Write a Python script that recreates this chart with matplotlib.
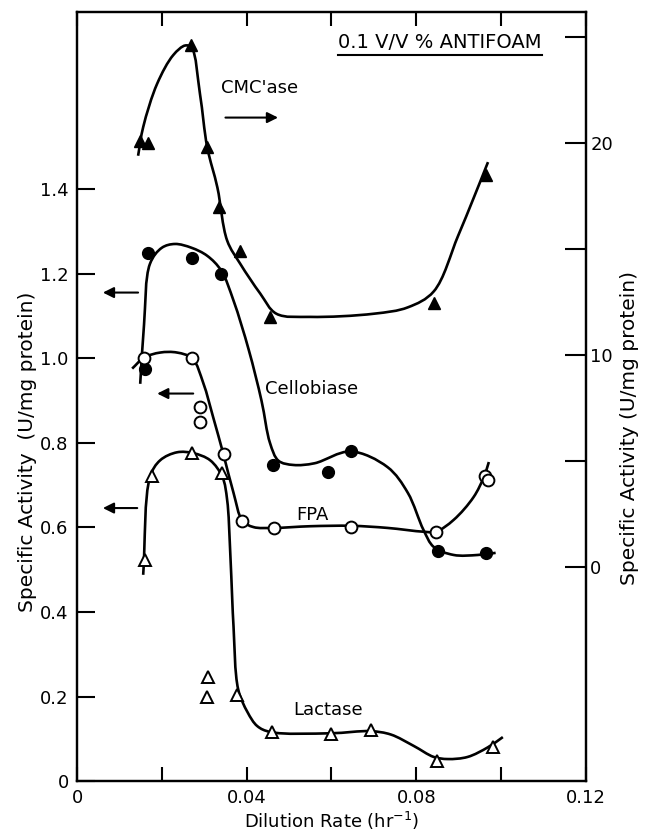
import numpy as np
import matplotlib
matplotlib.use('Agg')
import matplotlib.pyplot as plt
from matplotlib.path import Path
from matplotlib.patches import PathPatch
from matplotlib.lines import Line2D

plt.rcParams['font.family'] = ['DejaVu Sans']

# measured points
# CMC'ase  (right axis, U/mg protein)
cmc_x = [0.0149, 0.0168, 0.0269, 0.0307, 0.0335, 0.0385, 0.0456, 0.0841, 0.0964]
cmc_y = [20.1, 20.0, 24.6, 19.8, 17.0, 14.9, 11.8, 12.45, 18.5]
# Cellobiase (left axis)
cel_x = [0.0161, 0.0168, 0.0272, 0.0340, 0.0463, 0.0592, 0.0645, 0.0850, 0.0964]
cel_y = [0.974, 1.25, 1.238, 1.20, 0.748, 0.731, 0.78, 0.545, 0.54]
# FPA (left axis)
fpa_x = [0.0159, 0.0271, 0.0290, 0.0290, 0.0346, 0.0390, 0.0464, 0.0647, 0.0846, 0.0961, 0.0970]
fpa_y = [1.002, 1.0, 0.885, 0.849, 0.774, 0.616, 0.599, 0.60, 0.59, 0.722, 0.712]
# Lactase (left axis)
lac_x = [0.0160, 0.0177, 0.0270, 0.0343, 0.0310, 0.0307, 0.0378, 0.0460, 0.0600, 0.0692, 0.0848, 0.0980]
lac_y = [0.523, 0.722, 0.776, 0.729, 0.245, 0.20, 0.203, 0.116, 0.111, 0.12, 0.047, 0.08]

# hand drawn curves (knots)
cmc_fit_x = [0.0144, 0.0156, 0.0189, 0.0227, 0.0255, 0.0270, 0.0290, 0.0307, 0.0331, 0.0354, 0.0385,
             0.0432, 0.0470, 0.0550, 0.0700, 0.0780, 0.0841, 0.0898, 0.0935, 0.0969]
cmc_fit_y = [19.4, 20.75, 22.8, 24.15, 24.6, 24.5, 22.3, 19.8, 17.9, 15.4, 14.3,
             12.9, 11.95, 11.8, 11.95, 12.25, 13.0, 15.6, 17.4, 19.1]
cel_fit_x = [0.0149, 0.0158, 0.0172, 0.0200, 0.0231, 0.0270, 0.0307, 0.0340, 0.0369, 0.0405, 0.0435,
             0.0455, 0.0475, 0.0510, 0.0560, 0.0645, 0.0732, 0.0780, 0.0817, 0.0841, 0.0888, 0.0945,
             0.0987]
cel_fit_y = [0.94, 1.08, 1.224, 1.262, 1.271, 1.262, 1.243, 1.208, 1.137, 1.02, 0.90,
             0.80, 0.758, 0.748, 0.752, 0.780, 0.743, 0.682, 0.594, 0.554, 0.535, 0.535,
             0.540]
fpa_fit_x = [0.0130, 0.0158, 0.0196, 0.0236, 0.0272, 0.0298, 0.0321, 0.0345, 0.0369, 0.0390, 0.0416,
             0.0463, 0.0550, 0.0647, 0.0732, 0.0817, 0.0846, 0.0888, 0.0935, 0.0959, 0.0971]
fpa_fit_y = [0.976, 1.002, 1.014, 1.014, 1.0, 0.941, 0.861, 0.774, 0.682, 0.616, 0.601,
             0.599, 0.603, 0.604, 0.599, 0.59, 0.59, 0.618, 0.672, 0.719, 0.755]
lac_fit_x = [0.0156, 0.0172, 0.0196, 0.0236, 0.0274, 0.0314, 0.0343, 0.0354, 0.0361, 0.0366, 0.0369,
             0.0380, 0.0402, 0.0425, 0.0456, 0.0598, 0.0692, 0.0740, 0.0794, 0.0841, 0.0874, 0.0921,
             0.0969, 0.1004]
lac_fit_y = [0.488, 0.719, 0.759, 0.778, 0.776, 0.759, 0.719, 0.665, 0.547, 0.429, 0.366,
             0.217, 0.163, 0.13, 0.116, 0.113, 0.118, 0.110, 0.083, 0.057, 0.052, 0.057,
             0.080, 0.104]

x_ticks = [0, 0.02, 0.04, 0.06, 0.08, 0.10, 0.12]
x_labels = ['0', '', '0.04', '', '0.08', '', '0.12']
yl_ticks = [0, 0.2, 0.4, 0.6, 0.8, 1.0, 1.2, 1.4]
yl_labels = ['0', '0.2', '0.4', '0.6', '0.8', '1.0', '1.2', '1.4']
yr_ticks = [0, 5, 10, 15, 20, 25]
yr_labels = ['0', '', '10', '', '20', '']


def spline_path(a, xs, ys, alpha=0.5):
    # centripetal catmull-rom in screen space, turned into cubic beziers
    p = a.transData.transform(np.column_stack([xs, ys]))
    pe = np.vstack([2 * p[0] - p[1], p, 2 * p[-1] - p[-2]])
    verts = [p[0]]
    codes = [Path.MOVETO]
    for i in range(1, len(pe) - 2):
        p0, p1, p2, p3 = pe[i - 1], pe[i], pe[i + 1], pe[i + 2]
        d0 = max(np.linalg.norm(p1 - p0) ** alpha, 1e-6)
        d1 = max(np.linalg.norm(p2 - p1) ** alpha, 1e-6)
        d2 = max(np.linalg.norm(p3 - p2) ** alpha, 1e-6)
        m1 = (p1 - p0) / d0 - (p2 - p0) / (d0 + d1) + (p2 - p1) / d1
        m2 = (p2 - p1) / d1 - (p3 - p1) / (d1 + d2) + (p3 - p2) / d2
        verts += [p1 + m1 * d1 / 3, p2 - m2 * d1 / 3, p2]
        codes += [Path.CURVE4] * 3
    verts = a.transData.inverted().transform(np.array(verts))
    return Path(verts, codes)


fig = plt.figure(figsize=(6.45, 8.33), dpi=100)
ax = fig.add_axes([0.1194, 0.0624, 0.7891, 0.9232])
ax2 = ax.twinx()

ax.set_xlim(0, 0.12)
ax.set_ylim(0, 1.82)
ax2.set_ylim(-10.09, 26.18)

lw = 1.9
for xs, ys, a in [(cel_fit_x, cel_fit_y, ax), (fpa_fit_x, fpa_fit_y, ax),
                  (lac_fit_x, lac_fit_y, ax), (cmc_fit_x, cmc_fit_y, ax2)]:
    a.add_patch(PathPatch(spline_path(a, xs, ys), fill=False, lw=lw, ec='black', zorder=2))

ms = 8.5
ax2.plot(cmc_x, cmc_y, '^', ms=ms, mfc='black', mec='black', zorder=3)
ax.plot(cel_x, cel_y, 'o', ms=ms, mfc='black', mec='black', zorder=3)
ax.plot(fpa_x, fpa_y, 'o', ms=ms, mfc='white', mec='black', mew=1.4, zorder=3)
ax.plot(lac_x, lac_y, '^', ms=ms, mfc='white', mec='black', mew=1.4, zorder=3)

fs = 13
ax.set_xticks(x_ticks)
ax.set_xticklabels(x_labels, fontsize=fs)
ax.set_yticks(yl_ticks)
ax.set_yticklabels(yl_labels, fontsize=fs)
ax2.set_yticks(yr_ticks)
ax2.set_yticklabels(yr_labels, fontsize=fs)
ax.tick_params(axis='x', direction='in', length=10, width=1.5, top=True, pad=6)
ax.tick_params(axis='y', direction='in', length=13, width=1.5, pad=6)
ax2.tick_params(axis='y', direction='in', length=15, width=1.5, pad=3)
for a in (ax, ax2):
    for s in a.spines.values():
        s.set_linewidth(1.6)

ax.set_xlabel('Dilution Rate (hr$^{-1}$)', fontsize=13, labelpad=2)
ax.set_ylabel('Specific Activity  (U/mg protein)', fontsize=14.5)
ax.yaxis.set_label_coords(-0.078, 0.428)
ax2.set_ylabel('Specific Activity (U/mg protein)', fontsize=14.5)
ax2.yaxis.set_label_coords(1.066, 0.459)

# curve labels and direction arrows
ax2.text(0.043, 22.6, "CMC'ase", fontsize=fs, ha='center', va='center')
ax.text(0.0553, 0.927, 'Cellobiase', fontsize=fs, ha='center', va='center')
ax.text(0.0555, 0.63, 'FPA', fontsize=fs, ha='center', va='center')
ax.text(0.0593, 0.167, 'Lactase', fontsize=fs, ha='center', va='center')

arr = dict(arrowstyle='-|>', lw=1.5, color='black', mutation_scale=16, shrinkA=0, shrinkB=0)
ax2.annotate('', xy=(0.0474, 21.2), xytext=(0.0350, 21.2), arrowprops=arr)
ax.annotate('', xy=(0.0061, 1.156), xytext=(0.0144, 1.156), arrowprops=arr)
ax.annotate('', xy=(0.0189, 0.917), xytext=(0.0274, 0.917), arrowprops=arr)
ax.annotate('', xy=(0.0061, 0.646), xytext=(0.0142, 0.646), arrowprops=arr)

title = ax.text(0.713, 0.96, '0.1 V/V % ANTIFOAM', fontsize=14, ha='center', va='center',
                transform=ax.transAxes)
fig.canvas.draw()
bb = title.get_window_extent().transformed(fig.transFigure.inverted())
fig.add_artist(Line2D([bb.x0, bb.x1], [bb.y0 - 0.003, bb.y0 - 0.003], lw=1.5, color='black'))

fig.savefig('out.png', dpi=100)
